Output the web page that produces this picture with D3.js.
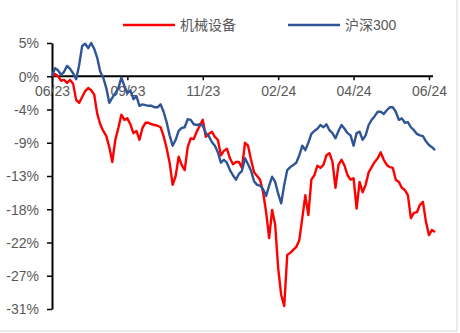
<!DOCTYPE html>
<html lang="zh">
<head>
<meta charset="utf-8" />
<title>机械设备 vs 沪深300</title>
<script src="https://d3js.org/d3.v7.min.js"></script>
<style>
  body{margin:0;background:#fff;font-family:"Liberation Sans",Arial,sans-serif;}
  svg{display:block;}
  .axis text{fill:#595959;font-size:14px;font-family:"Liberation Sans",Arial,sans-serif;}
  .axis path,.axis line{stroke:#000;}
</style>
</head>
<body>
<svg id="chart" width="460" height="333"></svg>
<script>
// -------- DATA (cumulative return, %) --------
const SERIES_NAMES=['机械设备','沪深300'];
const X_TICK_INDEX=[0,25,50,75,100,125];
const X_TICK_LABELS=['06/23','09/23','11/23','02/24','04/24','06/24'];
const Y_TICK_VALUES=[4.5,0,-4.5,-9,-13.5,-18,-22.5,-27,-31.5];
const Y_TICK_LABELS=['5%','0%','-4%','-9%','-13%','-18%','-22%','-27%','-31%'];

const machinery=[
  0.0,0.3,0.0,-0.6,-0.5,-0.9,-0.5,-1.0,-3.2,-3.6,
  -2.8,-2.0,-1.6,-1.9,-2.5,-5.1,-6.5,-7.4,-8.1,-9.6,
  -11.6,-8.6,-7.0,-5.2,-5.9,-5.7,-6.5,-7.7,-7.4,-8.6,
  -7.0,-6.3,-6.3,-6.5,-6.6,-6.7,-6.9,-8.1,-9.7,-11.7,
  -14.7,-13.5,-10.9,-12.0,-12.7,-9.6,-8.4,-8.5,-7.5,-6.7,
  -5.9,-8.2,-7.8,-7.5,-8.2,-8.6,-10.7,-10.1,-9.8,-11.1,
  -11.9,-11.6,-11.6,-12.4,-9.0,-9.4,-11.3,-13.0,-13.5,-14.0,
  -15.7,-18.4,-21.9,-18.1,-20.1,-26.0,-29.6,-31.1,-24.2,-23.9,
  -23.5,-23.1,-22.2,-19.2,-16.1,-18.8,-14.0,-13.4,-12.1,-12.4,
  -12.0,-10.7,-10.4,-11.6,-15.1,-12.0,-11.3,-12.1,-13.4,-14.0,
  -13.8,-17.9,-14.3,-15.7,-14.7,-13.0,-12.3,-11.6,-11.1,-10.3,
  -11.3,-12.0,-12.3,-12.4,-14.0,-14.3,-15.1,-15.4,-16.1,-19.2,
  -18.5,-18.4,-17.4,-17.0,-19.7,-21.5,-20.8,-21.1
];
const csi300=[
  0.0,1.1,0.8,0.2,0.6,1.4,1.0,0.4,-0.4,1.5,
  4.1,4.4,3.8,4.5,3.7,2.5,0.6,-0.2,-1.6,-3.6,
  -2.9,-2.3,-1.6,-0.2,-1.3,-2.3,-1.9,-3.1,-2.7,-4.0,
  -3.8,-3.9,-4.0,-4.0,-4.2,-4.2,-3.8,-4.8,-6.2,-8.0,
  -9.4,-8.6,-7.4,-7.0,-6.9,-5.8,-5.9,-6.5,-6.6,-6.5,
  -6.7,-7.7,-8.1,-8.9,-9.4,-10.3,-11.7,-11.3,-11.7,-12.7,
  -13.4,-14.0,-13.2,-12.8,-11.1,-11.9,-12.8,-14.2,-14.7,-14.8,
  -15.3,-16.2,-14.8,-13.6,-14.3,-15.9,-17.2,-14.7,-12.7,-12.3,
  -12.0,-11.7,-10.7,-9.4,-10.0,-9.0,-7.8,-7.4,-7.1,-6.6,
  -6.9,-6.5,-7.3,-7.7,-8.4,-7.4,-6.6,-7.1,-7.7,-8.0,
  -9.4,-7.7,-7.5,-8.6,-8.0,-6.6,-5.9,-5.4,-4.8,-4.8,
  -5.1,-4.6,-4.2,-4.2,-4.8,-5.9,-5.7,-6.3,-6.2,-6.9,
  -7.3,-7.8,-8.0,-8.1,-8.8,-9.3,-9.6,-10.0
];
const COLORS=['#ff0000','#2f5597'];

// -------- SCALES --------
const svg=d3.select('#chart');
const x=d3.scaleLinear().domain([0,machinery.length-1]).range([52,435]);
const y=d3.scaleLinear().domain([-31.5,4.5]).range([309,43]);

// frame edges visible in the reference
svg.append('line').attr('x1',457).attr('x2',457).attr('y1',0).attr('y2',331).attr('stroke','#d9d9d9');
svg.append('line').attr('x1',0).attr('x2',457).attr('y1',331).attr('y2',331).attr('stroke','#d9d9d9');

// -------- AXES --------
const yAxis=svg.append('g').attr('class','axis').attr('transform','translate(52,0)')
  .call(d3.axisLeft(y).tickValues(Y_TICK_VALUES).tickFormat((d,i)=>Y_TICK_LABELS[i]).tickSize(5).tickSizeOuter(0).tickPadding(8));
yAxis.select('.domain').attr('stroke-width',2);
yAxis.selectAll('.tick line').attr('stroke-width',1.5);
yAxis.selectAll('text').attr('dy','0.35em');

const xAxis=svg.append('g').attr('class','axis').attr('transform',`translate(0,${y(0)})`)
  .call(d3.axisBottom(x).tickValues(X_TICK_INDEX).tickFormat((d,i)=>X_TICK_LABELS[i]).tickSize(4).tickSizeOuter(0).tickPadding(6));
xAxis.select('.domain').attr('stroke-width',2).attr('d',`M${x(0)},0H${x(machinery.length-1)-2}`);
xAxis.selectAll('.tick line').attr('stroke-width',1.5);

// -------- LINES --------
const line=d3.line().x((d,i)=>x(i)).y(d=>y(d));
[machinery,csi300].forEach((s,k)=>{
  svg.append('path').datum(s).attr('fill','none').attr('stroke',COLORS[k])
    .attr('stroke-width',2.4).attr('stroke-linejoin','round').attr('d',line);
});

// -------- LEGEND --------
const legendX=[123,288];
SERIES_NAMES.forEach((name,k)=>{
  const g=svg.append('g').attr('transform',`translate(${legendX[k]},25)`);
  g.append('line').attr('x1',0).attr('x2',52).attr('stroke',COLORS[k]).attr('stroke-width',2.4);
  g.append('text').attr('x',57).attr('dy','0.35em').attr('fill','#595959')
    .style('font-size','14px').style('font-family','"Liberation Sans","Noto Sans CJK SC",sans-serif').text(name);
});
</script>
</body>
</html>
